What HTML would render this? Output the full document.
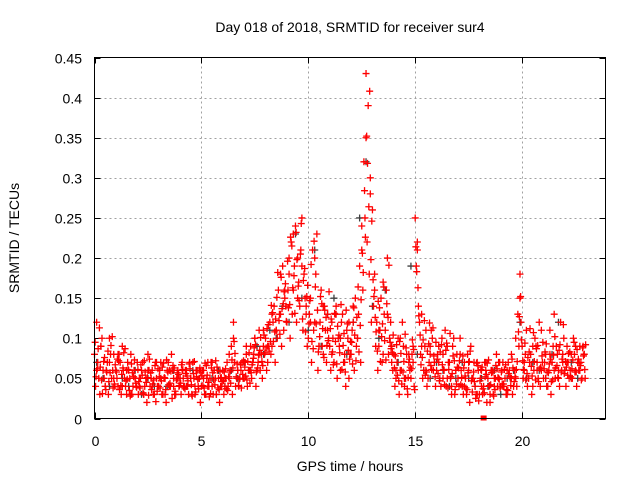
<!DOCTYPE html>
<html><head><meta charset="utf-8"><style>
body{margin:0;background:#fff;}
svg{display:block;font-family:"Liberation Sans",sans-serif;}
</style></head><body>
<svg id="chart" width="640" height="480">
<rect width="640" height="480" fill="#fff"/>
<text x="350" y="32" font-size="14" text-anchor="middle">Day 018 of 2018, SRMTID for receiver sur4</text>
<g id="grid"></g>
<g id="ticks"></g>
<g id="marks"></g>
<rect x="94.5" y="57.5" width="511" height="361" fill="none" stroke="#000"/>
<text x="350" y="471" font-size="14" text-anchor="middle">GPS time / hours</text>
<text x="19" y="238" font-size="14" text-anchor="middle" transform="rotate(-90 19 238)">SRMTID / TECUs</text>
</svg>
<script>
const xTicks=[0,5,10,15,20];
const yTicks=[0,0.05,0.1,0.15,0.2,0.25,0.3,0.35,0.4,0.45];
const yTickLabels=["0","0.05","0.1","0.15","0.2","0.25","0.3","0.35","0.4","0.45"];
const seriesA=[.08,.12,.05,.09,.06,.04,.07,.10,.05,.08,.06,.04,.07,.09,.05,.03,.06,.08,.04,.05,.07,.04,.06,.03,.05,.08,.04,.06,.03,.05,.04,.07,.03,.05,.06,.04,.08,.05,.03,.06,.05,.07,.04,.06,.03,.05,.07,.04,.06,.05,.04,.06,.03,.07,.05,.04,.06,.03,.05,.04,.06,.04,.07,.05,.09,.12,.04,.06,.05,.07,.05,.08,.06,.09,.07,.10,.06,.11,.08,.09,.10,.07,.12,.09,.14,.11,.16,.13,.19,.15,.12,.18,.22,.16,.24,.20,.14,.25,.18,.13,.10,.15,.21,.12,.23,.09,.16,.08,.11,.13,.09,.12,.07,.14,.10,.06,.13,.08,.11,.05,.08,.12,.15,.10,.19,.24,.32,.43,.39,.30,.26,.18,.12,.09,.15,.08,.11,.20,.10,.07,.08,.05,.10,.06,.12,.04,.08,.07,.05,.09,.25,.21,.12,.09,.06,.11,.05,.08,.10,.07,.06,.09,.04,.08,.11,.05,.07,.03,.10,.06,.05,.08,.04,.07,.03,.06,.09,.05,.04,.07,.03,.06,.04,.07,.05,.02,.06,.04,.08,.05,.04,.07,.05,.03,.06,.08,.04,.05,.13,.18,.09,.06,.11,.05,.08,.04,.10,.07,.12,.06,.05,.08,.04,.11,.07,.06,.09,.05,.12,.07,.06,.09,.05,.08,.10,.06,.07,.09,.05,.08];
const seriesB=[.04,.07,.03,.10,.05,.06,.03,.08,.06,.04,.05,.08,.03,.06,.04,.07,.05,.03,.06,.04,.03,.05,.07,.04,.02,.06,.05,.03,.07,.04,.06,.03,.05,.02,.07,.04,.06,.03,.05,.04,.03,.05,.06,.04,.07,.03,.05,.06,.04,.02,.06,.03,.05,.04,.07,.03,.05,.06,.02,.04,.03,.05,.04,.06,.03,.07,.05,.04,.06,.05,.07,.04,.06,.05,.08,.04,.07,.06,.05,.08,.06,.09,.08,.12,.07,.10,.13,.09,.11,.14,.16,.10,.13,.19,.12,.17,.21,.11,.15,.09,.13,.07,.11,.18,.06,.12,.09,.14,.07,.10,.06,.10,.13,.05,.09,.12,.07,.04,.10,.08,.11,.06,.09,.13,.07,.16,.25,.22,.18,.12,.14,.09,.06,.11,.07,.13,.16,.08,.12,.06,.04,.07,.03,.06,.09,.05,.03,.06,.08,.04,.19,.14,.08,.05,.09,.04,.07,.11,.06,.04,.08,.05,.10,.06,.04,.07,.05,.09,.03,.08,.04,.06,.03,.05,.08,.02,.05,.07,.03,.06,.05,.03,.07,.02,.04,.06,.03,.05,.04,.07,.06,.04,.03,.07,.05,.03,.06,.04,.09,.12,.05,.08,.04,.07,.03,.06,.09,.05,.04,.07,.07,.04,.06,.03,.09,.05,.08,.04,.06,.10,.04,.07,.06,.05,.08,.04,.06,.07,.09,.05];
const seriesC=[.06,.09,.04,.07,.05,.08,.04,.06,.03,.05,.05,.03,.06,.04,.07,.05,.03,.06,.04,.05,.06,.04,.05,.03,.06,.05,.04,.07,.03,.05,.05,.08,.10,.06,.07,.09,.06,.10,.08,.11,.09,.13,.11,.18,.16,.20,.23,.15,.19,.14,.12,.20,.09,.14,.11,.08,.13,.10,.07,.12,.14,.10,.21,.35,.28,.16,.11,.17,.13,.09,.06,.10,.05,.08,.07,.22,.13,.06,.09,.07,.07,.05,.09,.04,.06,.10,.04,.07,.05,.03,.04,.06,.03,.05,.07,.04,.06,.05,.10,.15,.07,.05,.09,.06,.11,.05,.08,.13,.06,.08,.07,.05,.09,.06,.08];
const seriesE=[.095,.062,.113,.048,.071,.036,.084,.057,.102,.043,.058,.072,.041,.063,.087,.049,.035,.068,.052,.044,.061,.038,.054,.072,.045,.029,.057,.043,.066,.034,.052,.047,.069,.036,.058,.044,.025,.063,.048,.055,.044,.061,.037,.053,.068,.042,.056,.033,.049,.063,.053,.038,.066,.045,.031,.057,.042,.064,.036,.051,.047,.062,.035,.058,.073,.096,.052,.041,.067,.055,.064,.048,.082,.057,.075,.092,.063,.085,.071,.104,.088,.117,.096,.132,.108,.151,.122,.176,.143,.168,.196,.142,.215,.178,.232,.165,.205,.124,.187,.152,.118,.192,.087,.164,.135,.102,.143,.076,.126,.097,.112,.083,.131,.068,.104,.142,.091,.058,.118,.074,.095,.138,.072,.164,.116,.206,.284,.352,.264,.198,.173,.126,.084,.138,.102,.164,.073,.126,.095,.082,.063,.092,.047,.081,.058,.105,.037,.074,.062,.086,.214,.163,.104,.076,.122,.058,.093,.066,.113,.052,.074,.047,.092,.061,.085,.038,.106,.056,.072,.043,.063,.042,.078,.053,.036,.071,.047,.058,.025,.066,.047,.064,.032,.055,.073,.042,.058,.036,.062,.049,.058,.043,.067,.035,.052,.074,.046,.061,.108,.152,.072,.094,.056,.083,.065,.107,.048,.091,.062,.078,.062,.093,.057,.074,.048,.102,.066,.085,.058,.117,.071,.054,.083,.062,.095,.058,.074,.066,.088,.061];
const seriesF=[.052,.087,.064,.031,.076,.058,.046,.091,.038,.067,.074,.036,.055,.082,.047,.061,.028,.057,.073,.039,.046,.067,.032,.058,.051,.074,.036,.048,.021,.062,.038,.064,.051,.073,.042,.059,.066,.034,.057,.041,.067,.039,.056,.047,.062,.028,.071,.052,.037,.058,.041,.069,.054,.027,.063,.048,.072,.038,.059,.046,.058,.037,.052,.044,.063,.081,.068,.049,.038,.072,.053,.071,.044,.067,.088,.058,.079,.101,.066,.082,.112,.084,.141,.096,.124,.182,.105,.137,.158,.121,.138,.226,.163,.131,.198,.147,.243,.172,.108,.166,.147,.096,.221,.118,.083,.152,.112,.135,.091,.158,.124,.067,.096,.115,.082,.061,.106,.135,.085,.096,.068,.104,.126,.083,.148,.182,.226,.318,.408,.246,.152,.108,.146,.071,.118,.097,.143,.191,.087,.104,.078,.054,.096,.043,.071,.088,.051,.064,.098,.036,.183,.128,.067,.098,.054,.084,.119,.061,.078,.095,.056,.083,.067,.042,.094,.061,.052,.078,.036,.064,.072,.051,.063,.038,.057,.084,.033,.046,.069,.022,.061,.037,.052,.069,.041,.057,.028,.066,.051,.038,.043,.061,.036,.056,.041,.063,.052,.071,.127,.098,.061,.048,.076,.112,.053,.071,.087,.046,.064,.095,.083,.058,.068,.046,.079,.063,.051,.092,.074,.056,.064,.081,.052,.073,.058,.086,.069,.048,.078,.092];
const seriesD=[.07,.05,.04,.06,.05,.04,.06,.03,.05,.04,.05,.04,.06,.05,.04,.06,.05,.03,.05,.06,.04,.06,.05,.07,.06,.09,.08,.11,.10,.14,.12,.23,.15,.11,.21,.09,.13,.15,.10,.08,.12,.25,.32,.14,.10,.16,.09,.07,.05,.19,.08,.06,.05,.07,.06,.04,.05,.07,.05,.04,.05,.04,.06,.03,.05,.06,.12,.05,.07,.06,.05,.08,.12,.06,.07,.05,.08];
const stepA=0.1, stepC=0.2, stepD=0.3;
const NS="http://www.w3.org/2000/svg";
const X0=94.5,X1=605.5,Y0=418.5,Y1=57.5;
function xs(v){return X0+v/23.9*(X1-X0);}
function ys(v){return Y0-v/0.45*(Y0-Y1);}
const grid=document.getElementById('grid'),ticks=document.getElementById('ticks'),marks=document.getElementById('marks');
function mk(tag,attrs,parent){const e=document.createElementNS(NS,tag);for(const k in attrs)e.setAttribute(k,attrs[k]);parent.appendChild(e);return e;}
yTicks.forEach((t,i)=>{
 const y=Math.round(ys(t))+0.5;
 if(i>0&&i<yTicks.length-1){const g=mk('line',{x1:X0,x2:X1,y1:y,y2:y,stroke:'#a0a0a0','stroke-dasharray':'2,3'},grid);
 
 }
 mk('line',{x1:X0,x2:X0+6,y1:y,y2:y,stroke:'#000'},ticks);
 mk('line',{x1:X1,x2:X1-6,y1:y,y2:y,stroke:'#000'},ticks);
 const tx=mk('text',{x:82,y:y+5,'font-size':14,'text-anchor':'end'},ticks);
 tx.textContent=yTickLabels[i];
 
 
});
xTicks.forEach((t,i)=>{
 const x=Math.round(xs(t))+0.5;
 if(i>0){const g=mk('line',{x1:x,x2:x,y1:Y0,y2:Y1,stroke:'#a0a0a0','stroke-dasharray':'2,3'},grid);
 
 }
 mk('line',{x1:x,x2:x,y1:Y0,y2:Y0-6,stroke:'#000'},ticks);
 mk('line',{x1:x,x2:x,y1:Y1,y2:Y1+6,stroke:'#000'},ticks);
 const tx=mk('text',{x:x,y:446,'font-size':14,'text-anchor':'middle'},ticks);
 tx.textContent=String(t);
 
 
});
function plot(vals,step,off,color,name){
 vals.forEach((v,i)=>{
  const x=xs(off+i*step),y=ys(v),s=3.5;
  const p=mk('path',{d:`M${x-s},${y}H${x+s}M${x},${y-s}V${y+s}`,stroke:color,'stroke-width':1.3,fill:'none'},marks);
  
  
 });
}
plot(seriesD,stepD,0.1,'#404040','point-dark');
plot(seriesA,stepA,0,'#ff0000','point-red');
plot(seriesB,stepA,0.05,'#ff0000','point-red');
plot(seriesC,stepC,0.1,'#ff0000','point-red');
plot(seriesE,stepA,0.03,'#ff0000','point-red');
plot(seriesF,stepA,0.07,'#ff0000','point-red');
const sq=mk('rect',{x:xs(18.2)-3,y:Y0-3,width:6,height:5,fill:'#ff0000'},marks);


</script>
</body></html>
